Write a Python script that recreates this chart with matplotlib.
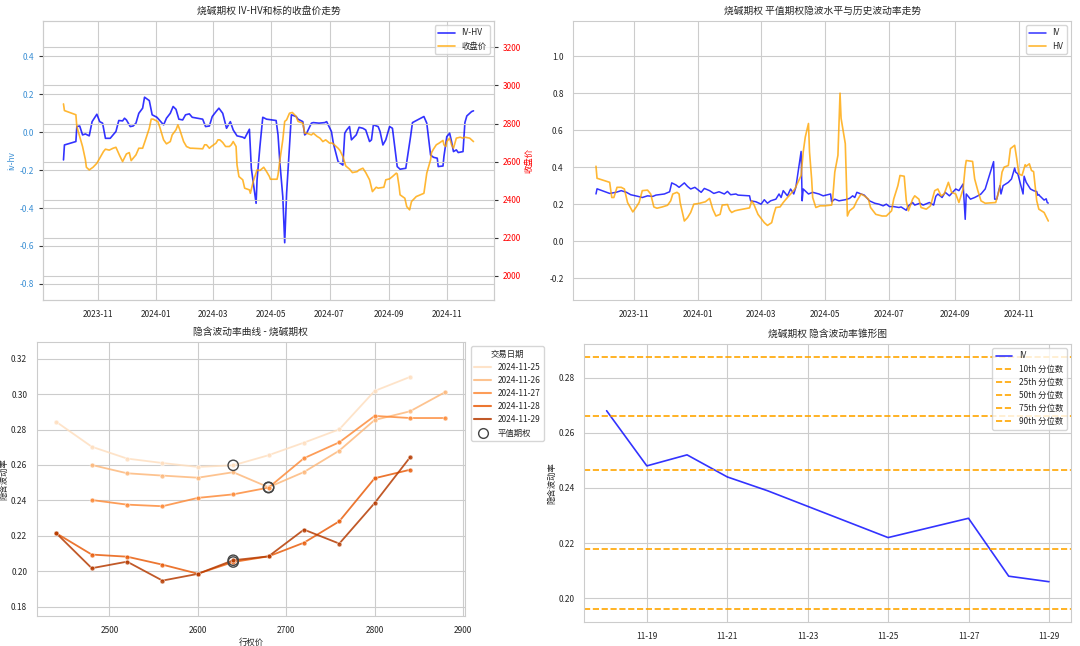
import matplotlib
matplotlib.use('Agg')
import matplotlib.pyplot as plt
import matplotlib.dates as mdates
from matplotlib.lines import Line2D
import seaborn as sns
import pandas as pd

sns.set_style('whitegrid')
plt.rcParams['font.family'] = ['Noto Sans CJK SC', 'DejaVu Sans']
plt.rcParams['axes.unicode_minus'] = False

# ---- IV-HV spread and underlying close (top left) ----
spread_dates = ['2023-09-26', '2023-09-27', '2023-10-09', '2023-10-10', '2023-10-13', '2023-10-16', '2023-10-19',
                '2023-10-23', '2023-10-26', '2023-10-31', '2023-11-03', '2023-11-06', '2023-11-09', '2023-11-14',
                '2023-11-20', '2023-11-23', '2023-11-27', '2023-11-29', '2023-12-01', '2023-12-05', '2023-12-08',
                '2023-12-11', '2023-12-14', '2023-12-18', '2023-12-20', '2023-12-25', '2023-12-28', '2024-01-02',
                '2024-01-05', '2024-01-09', '2024-01-12', '2024-01-16', '2024-01-19', '2024-01-22', '2024-01-25',
                '2024-01-29', '2024-02-01', '2024-02-05', '2024-02-08', '2024-02-19', '2024-02-22', '2024-02-26',
                '2024-02-29', '2024-03-04', '2024-03-07', '2024-03-11', '2024-03-15', '2024-03-19', '2024-03-22',
                '2024-03-26', '2024-04-01', '2024-04-03', '2024-04-08', '2024-04-10', '2024-04-15', '2024-04-16',
                '2024-04-19', '2024-04-22', '2024-04-26', '2024-05-06', '2024-05-08', '2024-05-10', '2024-05-13',
                '2024-05-15', '2024-05-17', '2024-05-20', '2024-05-22', '2024-05-27', '2024-05-29', '2024-06-03',
                '2024-06-05', '2024-06-07', '2024-06-12', '2024-06-14', '2024-06-20', '2024-06-26', '2024-06-28',
                '2024-07-03', '2024-07-05', '2024-07-10', '2024-07-15', '2024-07-17', '2024-07-19', '2024-07-22',
                '2024-07-24', '2024-07-29', '2024-08-01', '2024-08-05', '2024-08-08', '2024-08-12', '2024-08-14',
                '2024-08-16', '2024-08-21', '2024-08-23', '2024-08-26', '2024-08-29', '2024-09-02', '2024-09-05',
                '2024-09-10', '2024-09-13', '2024-09-19', '2024-09-24', '2024-09-26', '2024-10-08', '2024-10-11',
                '2024-10-15', '2024-10-18', '2024-10-22', '2024-10-23', '2024-10-28', '2024-10-29', '2024-11-01',
                '2024-11-04', '2024-11-06', '2024-11-08', '2024-11-11', '2024-11-13', '2024-11-18', '2024-11-20',
                '2024-11-22', '2024-11-27', '2024-11-29']
spread_vals = [-0.146, -0.067, -0.049, 0.030, 0.033, -0.014, -0.009,
               -0.019, 0.056, 0.095, 0.056, 0.048, -0.032, -0.032,
               0.004, 0.062, 0.060, 0.074, 0.065, 0.030, 0.033,
               0.048, 0.100, 0.127, 0.185, 0.167, 0.092, 0.079,
               0.062, 0.039, 0.074, 0.100, 0.136, 0.121, 0.069,
               0.065, 0.092, 0.097, 0.079, 0.069, 0.030, 0.033,
               0.083, 0.109, 0.127, 0.100, 0.021, 0.056, 0.012,
               -0.019, -0.026, -0.032, 0.016, -0.190, -0.375, -0.252,
               -0.076, 0.079, 0.069, 0.062, -0.014, -0.164, -0.340,
               -0.583, -0.322, -0.076, 0.092, 0.083, 0.069, 0.056,
               -0.014, -0.005, 0.048, 0.051, 0.048, 0.051, 0.056,
               0.004, -0.058, -0.155, -0.173, -0.005, 0.012, 0.030,
               -0.040, -0.014, 0.026, 0.021, 0.012, -0.049, -0.040,
               0.039, 0.030, 0.004, -0.067, -0.040, 0.030, 0.021,
               -0.181, -0.195, -0.190, -0.023, 0.051, 0.083, 0.048,
               -0.120, -0.132, -0.137, -0.181, -0.178, -0.128, -0.023,
               -0.005, -0.049, -0.102, -0.093, -0.107, -0.102, 0.051,
               0.086, 0.109, 0.113]

close_dates = ['2023-09-26', '2023-09-27', '2023-10-09', '2023-10-10', '2023-10-13', '2023-10-16', '2023-10-19',
               '2023-10-20', '2023-10-23', '2023-10-27', '2023-10-31', '2023-11-03', '2023-11-07', '2023-11-09',
               '2023-11-13', '2023-11-17', '2023-11-20', '2023-11-24', '2023-11-27', '2023-12-01', '2023-12-04',
               '2023-12-06', '2023-12-11', '2023-12-14', '2023-12-18', '2023-12-21', '2023-12-25', '2023-12-27',
               '2023-12-29', '2024-01-03', '2024-01-05', '2024-01-09', '2024-01-12', '2024-01-16', '2024-01-18',
               '2024-01-22', '2024-01-24', '2024-01-26', '2024-01-30', '2024-02-02', '2024-02-06', '2024-02-08',
               '2024-02-19', '2024-02-21', '2024-02-23', '2024-02-26', '2024-02-28', '2024-03-04', '2024-03-06',
               '2024-03-08', '2024-03-11', '2024-03-14', '2024-03-18', '2024-03-20', '2024-03-22', '2024-03-25',
               '2024-03-26', '2024-03-28', '2024-04-01', '2024-04-03', '2024-04-08', '2024-04-09', '2024-04-12',
               '2024-04-16', '2024-04-19', '2024-04-23', '2024-04-26', '2024-04-29', '2024-04-30', '2024-05-07',
               '2024-05-08', '2024-05-10', '2024-05-13', '2024-05-15', '2024-05-17', '2024-05-20', '2024-05-23',
               '2024-05-27', '2024-05-29', '2024-06-03', '2024-06-05', '2024-06-07', '2024-06-12', '2024-06-14',
               '2024-06-18', '2024-06-21', '2024-06-24', '2024-06-27', '2024-07-01', '2024-07-04', '2024-07-08',
               '2024-07-10', '2024-07-12', '2024-07-15', '2024-07-18', '2024-07-22', '2024-07-25', '2024-07-30',
               '2024-08-01', '2024-08-05', '2024-08-08', '2024-08-12', '2024-08-15', '2024-08-19', '2024-08-21',
               '2024-08-27', '2024-08-29', '2024-09-02', '2024-09-05', '2024-09-09', '2024-09-10', '2024-09-12',
               '2024-09-13', '2024-09-18', '2024-09-20', '2024-09-23', '2024-09-25', '2024-09-30', '2024-10-08',
               '2024-10-09', '2024-10-11', '2024-10-15', '2024-10-16', '2024-10-18', '2024-10-21', '2024-10-24',
               '2024-10-28', '2024-10-29', '2024-10-31', '2024-11-01', '2024-11-04', '2024-11-06', '2024-11-08',
               '2024-11-11', '2024-11-15', '2024-11-18', '2024-11-20', '2024-11-25', '2024-11-27', '2024-11-29']
close_vals = [2903, 2868, 2846, 2784, 2732, 2679, 2609,
              2570, 2556, 2570, 2591, 2618, 2653, 2665,
              2660, 2670, 2675, 2630, 2600, 2640, 2647,
              2605, 2635, 2670, 2670, 2714, 2775, 2823,
              2823, 2810, 2781, 2714, 2693, 2705, 2740,
              2767, 2793, 2767, 2705, 2679, 2670, 2670,
              2667, 2688, 2688, 2670, 2679, 2697, 2714,
              2714, 2700, 2679, 2679, 2688, 2705, 2679,
              2582, 2521, 2504, 2460, 2451, 2433, 2495,
              2556, 2553, 2570, 2547, 2521, 2507, 2507,
              2530, 2609, 2714, 2811, 2819, 2854, 2858,
              2837, 2811, 2802, 2749, 2749, 2740, 2749,
              2732, 2723, 2705, 2714, 2697, 2697, 2679,
              2670, 2658, 2626, 2577, 2560, 2542, 2547,
              2556, 2565, 2542, 2504, 2442, 2465, 2460,
              2465, 2504, 2509, 2521, 2539, 2535, 2468,
              2425, 2407, 2363, 2346, 2390, 2416, 2433,
              2468, 2539, 2609, 2647, 2665, 2688, 2697,
              2711, 2688, 2679, 2705, 2723, 2688, 2670,
              2723, 2728, 2723, 2728, 2723, 2714, 2705]

# ---- ATM IV and HV (top right) ----
iv_dates = ['2023-09-26', '2023-09-27', '2023-10-09', '2023-10-15', '2023-10-20', '2023-10-25', '2023-10-29',
            '2023-11-05', '2023-11-09', '2023-11-14', '2023-11-19', '2023-11-22', '2023-11-30', '2023-12-05',
            '2023-12-07', '2023-12-11', '2023-12-14', '2023-12-19', '2023-12-22', '2023-12-25', '2023-12-29',
            '2024-01-04', '2024-01-07', '2024-01-12', '2024-01-16', '2024-01-21', '2024-01-26', '2024-01-29',
            '2024-02-01', '2024-02-06', '2024-02-08', '2024-02-19', '2024-02-20', '2024-02-25', '2024-03-01',
            '2024-03-04', '2024-03-07', '2024-03-10', '2024-03-15', '2024-03-18', '2024-03-20', '2024-03-22',
            '2024-03-26', '2024-03-29', '2024-04-01', '2024-04-03', '2024-04-08', '2024-04-09', '2024-04-10',
            '2024-04-15', '2024-04-19', '2024-04-25', '2024-04-29', '2024-05-06', '2024-05-07', '2024-05-10',
            '2024-05-14', '2024-05-20', '2024-05-24', '2024-05-27', '2024-05-29', '2024-05-31', '2024-06-04',
            '2024-06-07', '2024-06-12', '2024-06-17', '2024-06-21', '2024-06-25', '2024-06-28', '2024-07-01',
            '2024-07-05', '2024-07-10', '2024-07-12', '2024-07-17', '2024-07-19', '2024-07-23', '2024-07-25',
            '2024-07-30', '2024-08-02', '2024-08-08', '2024-08-12', '2024-08-14', '2024-08-16', '2024-08-20',
            '2024-08-23', '2024-08-27', '2024-08-30', '2024-09-02', '2024-09-05', '2024-09-09', '2024-09-11',
            '2024-09-12', '2024-09-16', '2024-09-20', '2024-09-23', '2024-09-26', '2024-09-30', '2024-10-08',
            '2024-10-09', '2024-10-11', '2024-10-14', '2024-10-15', '2024-10-17', '2024-10-22', '2024-10-25',
            '2024-10-28', '2024-10-29', '2024-10-31', '2024-11-05', '2024-11-06', '2024-11-08', '2024-11-12',
            '2024-11-15', '2024-11-18', '2024-11-19', '2024-11-20', '2024-11-21', '2024-11-22', '2024-11-25',
            '2024-11-26', '2024-11-27', '2024-11-28', '2024-11-29']
iv_vals = [0.255, 0.283, 0.258, 0.264, 0.273, 0.264, 0.251,
           0.242, 0.236, 0.245, 0.242, 0.249, 0.255, 0.267,
           0.315, 0.304, 0.291, 0.315, 0.296, 0.282, 0.291,
           0.264, 0.285, 0.273, 0.258, 0.267, 0.255, 0.269,
           0.251, 0.255, 0.249, 0.245, 0.218, 0.213, 0.200,
           0.224, 0.205, 0.218, 0.227, 0.255, 0.236, 0.273,
           0.245, 0.282, 0.255, 0.291, 0.485, 0.218, 0.282,
           0.255, 0.264, 0.255, 0.245, 0.255, 0.213, 0.227,
           0.218, 0.224, 0.231, 0.245, 0.236, 0.264, 0.255,
           0.249, 0.218, 0.205, 0.200, 0.191, 0.200, 0.187,
           0.187, 0.182, 0.185, 0.167, 0.191, 0.209, 0.195,
           0.205, 0.195, 0.209, 0.195, 0.242, 0.255, 0.236,
           0.264, 0.245, 0.264, 0.282, 0.273, 0.309, 0.118,
           0.255, 0.227, 0.236, 0.245, 0.255, 0.282, 0.430,
           0.227, 0.227, 0.300, 0.255, 0.300, 0.318, 0.336,
           0.395, 0.373, 0.364, 0.255, 0.351, 0.318, 0.282,
           0.273, 0.268, 0.248, 0.252, 0.244, 0.239, 0.222,
           0.2255, 0.229, 0.208, 0.206]

hv_dates = ['2023-09-26', '2023-09-27', '2023-10-09', '2023-10-11', '2023-10-13', '2023-10-16', '2023-10-20',
            '2023-10-23', '2023-10-26', '2023-10-31', '2023-11-03', '2023-11-06', '2023-11-09', '2023-11-14',
            '2023-11-17', '2023-11-20', '2023-11-23', '2023-11-28', '2023-12-03', '2023-12-06', '2023-12-08',
            '2023-12-12', '2023-12-14', '2023-12-15', '2023-12-19', '2023-12-22', '2023-12-25', '2023-12-28',
            '2024-01-02', '2024-01-08', '2024-01-12', '2024-01-15', '2024-01-18', '2024-01-22', '2024-01-24',
            '2024-01-29', '2024-01-31', '2024-02-02', '2024-02-05', '2024-02-08', '2024-02-19', '2024-02-21',
            '2024-02-23', '2024-02-27', '2024-03-04', '2024-03-07', '2024-03-11', '2024-03-13', '2024-03-15',
            '2024-03-19', '2024-03-22', '2024-03-26', '2024-03-29', '2024-04-02', '2024-04-08', '2024-04-10',
            '2024-04-12', '2024-04-15', '2024-04-16', '2024-04-18', '2024-04-19', '2024-04-22', '2024-04-26',
            '2024-04-30', '2024-05-07', '2024-05-08', '2024-05-10', '2024-05-13', '2024-05-15', '2024-05-16',
            '2024-05-20', '2024-05-21', '2024-05-22', '2024-05-24', '2024-05-28', '2024-05-31', '2024-06-04',
            '2024-06-07', '2024-06-11', '2024-06-13', '2024-06-18', '2024-06-24', '2024-06-28', '2024-07-03',
            '2024-07-05', '2024-07-09', '2024-07-11', '2024-07-15', '2024-07-17', '2024-07-19', '2024-07-23',
            '2024-07-25', '2024-07-29', '2024-07-31', '2024-08-05', '2024-08-09', '2024-08-13', '2024-08-16',
            '2024-08-19', '2024-08-22', '2024-08-26', '2024-08-29', '2024-09-02', '2024-09-05', '2024-09-09',
            '2024-09-11', '2024-09-12', '2024-09-18', '2024-09-20', '2024-09-23', '2024-09-26', '2024-09-30',
            '2024-10-10', '2024-10-14', '2024-10-16', '2024-10-18', '2024-10-22', '2024-10-24', '2024-10-28',
            '2024-10-30', '2024-11-01', '2024-11-04', '2024-11-07', '2024-11-08', '2024-11-11', '2024-11-13',
            '2024-11-15', '2024-11-18', '2024-11-20', '2024-11-25', '2024-11-29']
hv_vals = [0.405, 0.340, 0.318, 0.236, 0.236, 0.291, 0.291,
           0.282, 0.209, 0.158, 0.182, 0.209, 0.273, 0.276,
           0.255, 0.185, 0.178, 0.185, 0.194, 0.218, 0.255,
           0.264, 0.255, 0.209, 0.109, 0.127, 0.155, 0.200,
           0.204, 0.213, 0.231, 0.173, 0.136, 0.145, 0.195,
           0.198, 0.169, 0.155, 0.164, 0.168, 0.180, 0.218,
           0.200, 0.145, 0.100, 0.085, 0.100, 0.145, 0.182,
           0.185, 0.209, 0.236, 0.255, 0.282, 0.355, 0.482,
           0.564, 0.636, 0.482, 0.336, 0.236, 0.182, 0.191,
           0.191, 0.195, 0.227, 0.373, 0.464, 0.800, 0.664,
           0.527, 0.336, 0.136, 0.164, 0.182, 0.218, 0.255,
           0.245, 0.227, 0.182, 0.145, 0.136, 0.136, 0.164,
           0.227, 0.300, 0.355, 0.351, 0.218, 0.164, 0.227,
           0.245, 0.227, 0.182, 0.173, 0.191, 0.273, 0.282,
           0.245, 0.255, 0.318, 0.264, 0.255, 0.209, 0.282,
           0.400, 0.436, 0.431, 0.336, 0.273, 0.218, 0.205,
           0.209, 0.291, 0.373, 0.400, 0.409, 0.500, 0.518,
           0.445, 0.364, 0.355, 0.413, 0.405, 0.418, 0.382,
           0.376, 0.218, 0.173, 0.155, 0.109]

# ---- IV smile by trading day (bottom left) ----
smile_days = ['2024-11-25', '2024-11-26', '2024-11-27', '2024-11-28', '2024-11-29']
smile_strikes = [
    [2440, 2480, 2520, 2560, 2600, 2640, 2680, 2720, 2760, 2800, 2840],
    [2480, 2520, 2560, 2600, 2640, 2680, 2720, 2760, 2800, 2840, 2880],
    [2480, 2520, 2560, 2600, 2640, 2680, 2720, 2760, 2800, 2840, 2880],
    [2440, 2480, 2520, 2560, 2600, 2640, 2680, 2720, 2760, 2800, 2840],
    [2440, 2480, 2520, 2560, 2600, 2640, 2680, 2720, 2760, 2800, 2840],
]
smile_ivs = [
    [0.2843, 0.2703, 0.2636, 0.2611, 0.2589, 0.2598, 0.2655, 0.2726, 0.2801, 0.3018, 0.3097],
    [0.2600, 0.2553, 0.2540, 0.2528, 0.2559, 0.2474, 0.2560, 0.2681, 0.2854, 0.2903, 0.3012],
    [0.2402, 0.2376, 0.2367, 0.2414, 0.2434, 0.2472, 0.2638, 0.2728, 0.2877, 0.2865, 0.2865],
    [0.2214, 0.2094, 0.2082, 0.2037, 0.1986, 0.2052, 0.2084, 0.2161, 0.2282, 0.2525, 0.2573],
    [0.2214, 0.2017, 0.2054, 0.1947, 0.1985, 0.2062, 0.2084, 0.2235, 0.2156, 0.2385, 0.2643],
]
atm_strikes = [2640, 2680, 2680, 2640, 2640]

# ---- IV cone (bottom right) ----
cone_len = 10
cone_pcts = [10, 25, 50, 75, 90]
cone_levels = [0.1960, 0.2177, 0.2466, 0.2662, 0.2876]

TITLE = 7
SMALL = 6

fig = plt.figure(figsize=(10.8, 6.46), dpi=100)

# top left
ax1 = fig.add_axes([0.0398, 0.5356, 0.4176, 0.4319])
sd = pd.to_datetime(spread_dates)
cd = pd.to_datetime(close_dates)
l1, = ax1.plot(sd, spread_vals, color='blue', alpha=0.8, lw=1.2, label='IV-HV')
ax1.set_ylim(-0.885, 0.587)
ax1.set_ylabel('iv-hv', color='#3b8fd4', fontsize=SMALL, labelpad=2)
ax1.tick_params(axis='y', labelcolor='#3b8fd4', labelsize=SMALL, length=3, color='#333333', left=True)
ax1.tick_params(axis='x', labelsize=SMALL)
ax2 = ax1.twinx()
l2, = ax2.plot(cd, close_vals, color='orange', alpha=0.8, lw=1.2, label='收盘价')
ax2.set_ylim(1872, 3339)
ax2.set_ylabel('收盘价', color='red', fontsize=SMALL, labelpad=2)
ax2.tick_params(axis='y', labelcolor='red', labelsize=SMALL, length=3, color='#333333', right=True)
ax2.legend([l1, l2], ['IV-HV', '收盘价'], loc='upper right', fontsize=SMALL)
ax1.set_title('烧碱期权 IV-HV和标的收盘价走势', fontsize=TITLE, pad=5)
ax1.xaxis.set_major_locator(mdates.MonthLocator(bymonth=[1, 3, 5, 7, 9, 11]))
ax1.xaxis.set_major_formatter(mdates.DateFormatter('%Y-%m'))

# top right
ax3 = fig.add_axes([0.5309, 0.5356, 0.4607, 0.4319])
ax3.plot(pd.to_datetime(iv_dates), iv_vals, color='blue', alpha=0.8, lw=1.1, label='IV')
ax3.plot(pd.to_datetime(hv_dates), hv_vals, color='orange', alpha=0.8, lw=1.2, label='HV')
ax3.set_ylim(-0.318, 1.19)
ax3.set_title('烧碱期权 平值期权隐波水平与历史波动率走势', fontsize=TITLE, pad=5)
ax3.tick_params(labelsize=SMALL)
ax3.xaxis.set_major_locator(mdates.MonthLocator(bymonth=[1, 3, 5, 7, 9, 11]))
ax3.xaxis.set_major_formatter(mdates.DateFormatter('%Y-%m'))
ax3.legend(loc='upper right', fontsize=SMALL)

# bottom left
ax4 = fig.add_axes([0.0342, 0.0464, 0.3962, 0.4241])
pal = sns.color_palette('Oranges', len(smile_days))
handles = []
for i, day in enumerate(smile_days):
    ax4.plot(smile_strikes[i], smile_ivs[i], color=pal[i], alpha=0.85, lw=1.3, marker='o', markersize=3.5,
             markeredgecolor='white', markeredgewidth=0.4)
    handles.append(Line2D([], [], color=pal[i], alpha=0.85, lw=1.5, label=day))
for i, k in enumerate(atm_strikes):
    j = smile_strikes[i].index(k)
    ax4.scatter(k, smile_ivs[i][j], s=55, facecolors='none', edgecolors='#444444', linewidths=1.0, zorder=5)
handles.append(Line2D([], [], ls='none', marker='o', markersize=7, markerfacecolor='none',
                      markeredgecolor='#444444', markeredgewidth=1.0, label='平值期权'))
ax4.set_ylim(0.1747, 0.3294)
ax4.set_title('隐含波动率曲线 - 烧碱期权', fontsize=TITLE, pad=5)
ax4.set_xlabel('行权价', fontsize=SMALL, labelpad=2)
ax4.set_ylabel('隐含波动率', fontsize=SMALL, labelpad=2)
ax4.tick_params(labelsize=SMALL)
ax4.legend(handles=handles, title='交易日期', loc='upper left', bbox_to_anchor=(1.005, 1.0), fontsize=SMALL,
           title_fontsize=SMALL)

# bottom right
ax5 = fig.add_axes([0.5412, 0.0372, 0.4505, 0.4303])
ax5.plot(pd.to_datetime(iv_dates[-cone_len:]), iv_vals[-cone_len:], color='blue', alpha=0.8, lw=1.2, label='IV')
for p, v in zip(cone_pcts, cone_levels):
    ax5.axhline(v, color='orange', ls='--', lw=1.2, label=f'{p}th 分位数')
ax5.set_ylim(0.1914, 0.2922)
ax5.set_title('烧碱期权 隐含波动率锥形图', fontsize=TITLE, pad=5)
ax5.set_ylabel('隐含波动率', fontsize=SMALL, labelpad=2)
ax5.tick_params(labelsize=SMALL)
ax5.xaxis.set_major_locator(mdates.DayLocator(bymonthday=[19, 21, 23, 25, 27, 29]))
ax5.xaxis.set_major_formatter(mdates.DateFormatter('%m-%d'))
ax5.legend(loc='upper right', fontsize=SMALL)

fig.savefig('out.png', dpi=100)
